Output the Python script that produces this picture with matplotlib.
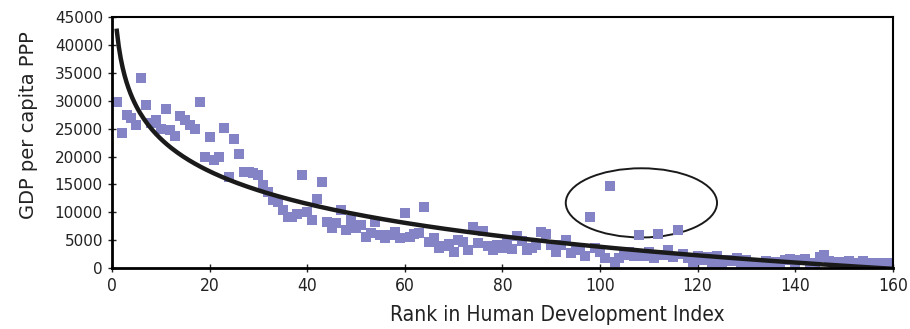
import numpy as np
import matplotlib.pyplot as plt
from matplotlib.patches import Ellipse

# GDP per capita (PPP), one value per HDI rank 1..160
gdp_1_40 = [29700, 24200, 27400, 27000, 25600, 34000, 29300, 26000, 26500, 25000,
            28500, 24700, 23600, 27200, 26500, 25600, 25000, 29700, 19900, 23500,
            19400, 19900, 25100, 16300, 23100, 20400, 17200, 17200, 17000, 16700,
            14900, 13600, 12200, 11800, 10400, 9100, 9100, 9700, 16700, 10000]
gdp_41_80 = [8600, 12400, 15400, 8200, 7200, 8100, 10400, 6800, 8600, 7200,
             7700, 5600, 6300, 8200, 5900, 5400, 5900, 6500, 5400, 9900,
             5600, 6100, 6300, 10900, 4700, 5400, 3600, 3900, 4300, 2900,
             5000, 4700, 3200, 7300, 4500, 6600, 3900, 3200, 4100, 3600]
gdp_81_120 = [4500, 3400, 5700, 4800, 3200, 3600, 4100, 6400, 6100, 4100,
              2900, 4100, 5000, 2700, 3600, 3200, 2200, 9100, 3600, 2900,
              1800, 14700, 1100, 1800, 2300, 2900, 2200, 5900, 2200, 2900,
              1800, 6100, 2300, 3200, 2000, 6800, 2500, 1800, 1100, 2200]
gdp_121_160 = [1500, 2000, 1000, 2200, 800, 1500, 1200, 1800, 600, 1400,
               900, 1000, 700, 1300, 500, 1100, 800, 1500, 1600, 600,
               1400, 1700, 1000, 500, 2000, 2300, 1200, 800, 1100, 600,
               1300, 1000, 900, 1200, 700, 1000, 900, 600, 1000, 500]

gdp = np.array(gdp_1_40 + gdp_41_80 + gdp_81_120 + gdp_121_160, dtype=float)
rank = np.arange(1, len(gdp) + 1)

# logarithmic trendline fitted to the scatter (as in the spreadsheet original)
b, a = np.polyfit(np.log(rank), gdp, 1)
x_fit = np.linspace(1, 160, 400)
y_fit = a + b * np.log(x_fit)

plt.rcParams['font.family'] = ['DejaVu Sans']
txt_col = '#222222'

fig = plt.figure(figsize=(9.1, 3.29), dpi=100)
ax = fig.add_axes([0.123, 0.185, 0.858, 0.763])

ax.plot(rank, gdp, linestyle='none', marker='s', markersize=6.5,
        color='#8383c6', markeredgewidth=0)
ax.plot(x_fit, y_fit, color='#1a1a1a', linewidth=3.2)

ax.add_patch(Ellipse((108.5, 11700), 31, 12400, fill=False,
                     edgecolor='#1a1a1a', linewidth=1.4))

ax.set_xlim(0, 160)
ax.set_ylim(0, 45000)
ax.set_xticks(np.arange(0, 161, 20))
ax.set_yticks(np.arange(0, 45001, 5000))
ax.tick_params(direction='inout', length=6, width=1, colors=txt_col)
ax.tick_params(axis='y', labelsize=11)
ax.tick_params(axis='x', labelsize=12.5)
for lab in ax.get_xticklabels():
    lab.set_fontstretch('condensed')
for side in ['left', 'bottom']:
    ax.spines[side].set_linewidth(2)
for side in ['top', 'right']:
    ax.spines[side].set_linewidth(1.5)

ax.set_xlabel('Rank in Human Development Index', fontsize=15, color=txt_col,
              labelpad=7, fontstretch='condensed')
ax.set_ylabel('GDP per capita PPP', fontsize=14, color=txt_col, labelpad=12)
ax.xaxis.label.set_x(0.57)
ax.yaxis.label.set_y(0.57)

fig.savefig('out.png', dpi=100)
